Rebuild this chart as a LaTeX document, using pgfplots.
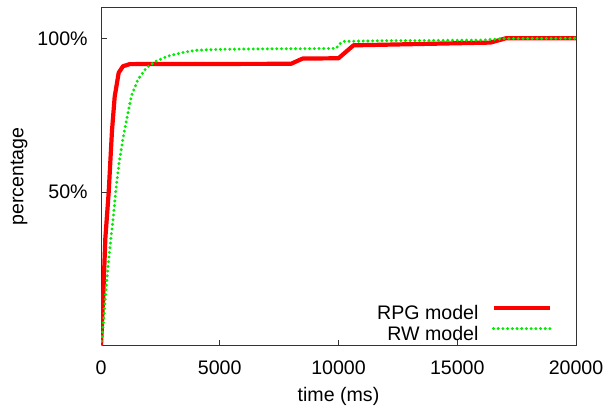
\documentclass[border=0pt]{standalone}
\usepackage{fontspec}
\setmainfont{Liberation Sans}
\usepackage{pgfplots}
\pgfplotsset{compat=1.18}
\usetikzlibrary{calc}
\definecolor{rpgred}{RGB}{255,0,0}
\definecolor{rwgreen}{RGB}{0,235,0}
\begin{document}
\begin{tikzpicture}[font=\fontsize{9.8}{11.8}\selectfont]
\begin{axis}[
  scale only axis, width=237.5pt, height=169.25pt,
  xmin=0, xmax=20000, ymin=0, ymax=110,
  xtick={0,5000,10000,15000,20000},
  xticklabels={0,5000,10000,15000,20000},
  ytick={50,100}, yticklabels={50\%,100\%},
  scaled x ticks=false,
  tick align=inside, xtick pos=bottom, ytick pos=left,
  major tick length=3pt,
  axis line style={black!80, line width=0.5pt},
  tick style={black!80, line width=0.5pt},
  xticklabel style={anchor=center, inner sep=0pt, yshift=-10.67pt},
  yticklabel style={anchor=east, inner sep=0pt, xshift=-6.5pt},
  xlabel={time (ms)}, ylabel={percentage},
  every axis x label/.style={at={(rel axis cs:0.5,0)}, yshift=-25.25pt, anchor=center},
  every axis y label/.style={at={(rel axis cs:0,0.5)}, xshift=-41pt, rotate=90, anchor=center},
  legend style={draw=none, fill=none, at={(rel axis cs:0.951,-0.001)}, anchor=south east,
    inner sep=0pt, row sep=0pt, column sep=6.5pt,
    nodes={inner sep=0pt, text height=7.5pt, text depth=2.85pt}},
  legend cell align=right, legend plot pos=right,
  legend image code/.code={\draw[#1] (0pt,3.5pt) -- (28.35pt,3.5pt);},
]
\addplot[rpgred, line width=2.1pt, line join=round] coordinates {
(0,0) (98,17) (183,35) (324,50) (463,70) (576,81) (745,88.8) (926,90.9) (1208,91.6)
(8000,91.7) (8490,93.4) (10000,93.5) (10630,97.7) (16400,98.6) (17050,100) (20000,100)
};
\addlegendentry{RPG model}
\addplot[rwgreen, line width=1.65pt, line cap=round, dash pattern=on 0pt off 2.35pt] coordinates {
(0,0) (112,8.3) (197,17) (295,25.7) (407,34.4) (519,42) (618,50) (758,59.4) (960,69)
(1137,75.7) (1277,81.2) (1558,86.6) (1909,90.4) (2330,92.6) (2821,94.2) (3524,95.5)
(4013,96.1) (5000,96.4) (6000,96.5) (9900,96.7) (10050,98.2) (10250,99.0) (12000,99.2)
(16000,99.4) (17000,99.9) (20000,100)
};
\addlegendentry{RW model}
\end{axis}
\pgfresetboundingbox
\path ($(current axis.south west)+(-50.5pt,-32pt)$) rectangle ($(current axis.north east)+(16.5pt,3.75pt)$);
\end{tikzpicture}
\end{document}
